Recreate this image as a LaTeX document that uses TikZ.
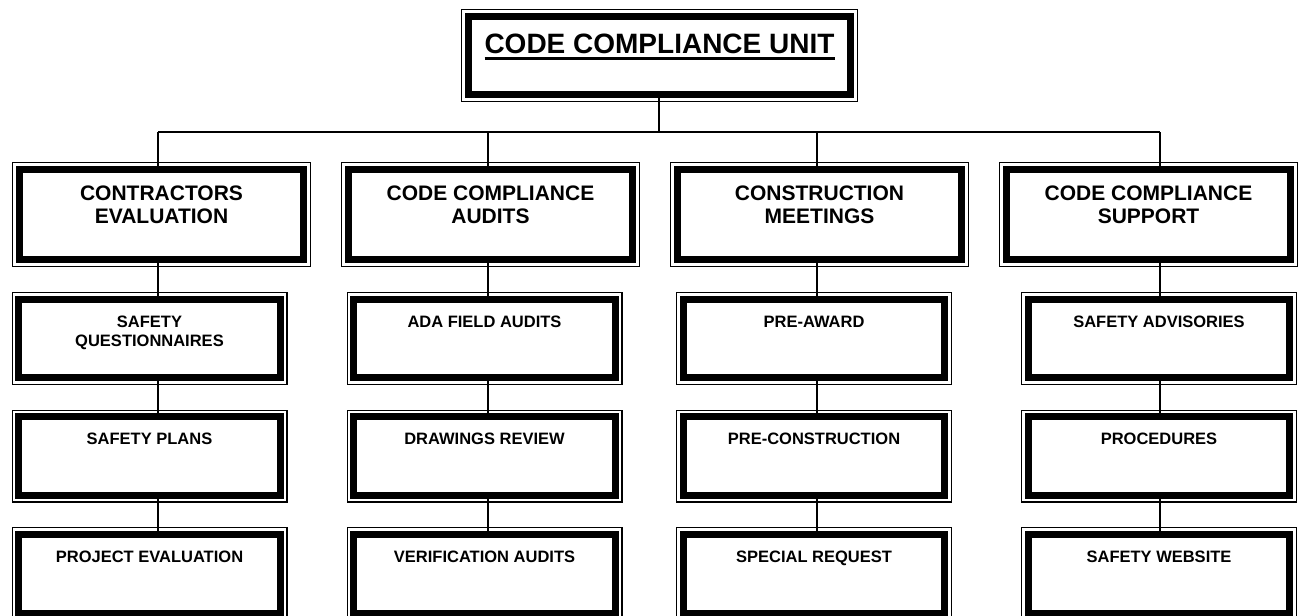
\documentclass[tikz,border=0pt]{standalone}
\usepackage{fontspec}
\setmainfont{Liberation Sans}
\usetikzlibrary{positioning}

\newlength\ulwd
\newcommand\ulinetext[1]{\settowidth\ulwd{#1}\rlap{#1}\rule[-6.6pt]{\ulwd}{3pt}}

\begin{document}
\begin{tikzpicture}[
    x=1pt,
    y=-1pt,
    framebox/.style={
        rectangle,
        draw,
        fill=white,
        line width=7pt,
        inner sep=0pt,
        outer sep=0pt,
        align=center,
        preaction={draw=black, line width=14.4pt},
        preaction={draw=white, line width=12pt}
    },
    unitbox/.style={
        framebox,
        minimum width=382.6pt,
        minimum height=78.6pt,
        text height=37.1pt,
        text depth=41.5pt,
        font=\fontsize{28}{30}\selectfont\bfseries
    },
    mainbox/.style={
        framebox,
        minimum width=284.6pt,
        minimum height=90.6pt,
        text height=53.8pt,
        text depth=36.8pt,
        font=\fontsize{21}{23}\selectfont\bfseries
    },
    subbox/.style={
        framebox,
        minimum width=261.6pt,
        minimum height=78.6pt,
        text height=27.8pt,
        text depth=50.8pt,
        font=\fontsize{16.5}{19.5}\selectfont\bfseries
    },
    subtwo/.style={
        subbox,
        text height=47.3pt,
        text depth=31.3pt
    },
    link/.style={
        draw,
        line width=1.2pt
    }
]
    \useasboundingbox (0,0) rectangle (1299,616);

    % Top
    \node [unitbox] (unit) at (659.5,55.5) {\ulinetext{CODE COMPLIANCE UNIT}};

    % Units
    \node [mainbox] (ce) at (161.5,214.5) {CONTRACTORS\\EVALUATION};
    \node [mainbox, right=44.4pt of ce] (cca) {CODE COMPLIANCE\\AUDITS};
    \node [mainbox, right=44.4pt of cca] (cm) {CONSTRUCTION\\MEETINGS};
    \node [mainbox, right=44.4pt of cm] (ccs) {CODE COMPLIANCE\\SUPPORT};

    % Tasks
    \node [subtwo] (sq) at (149.5,338.5) {SAFETY\\QUESTIONNAIRES};
    \node [subbox, below=39pt of sq] (sp) {SAFETY PLANS};
    \node [subbox, below=39pt of sp] (pe) {PROJECT EVALUATION};

    \node [subbox] (ada) at (484.5,338.5) {ADA FIELD AUDITS};
    \node [subbox, below=39pt of ada] (dr) {DRAWINGS REVIEW};
    \node [subbox, below=39pt of dr] (va) {VERIFICATION AUDITS};

    \node [subbox] (pa) at (814,338.5) {PRE-AWARD};
    \node [subbox, below=39pt of pa] (pc) {PRE-CONSTRUCTION};
    \node [subbox, below=39pt of pc] (sr) {SPECIAL REQUEST};

    \node [subbox] (sa) at (1159,338.5) {SAFETY ADVISORIES};
    \node [subbox, below=39pt of sa] (proc) {PROCEDURES};
    \node [subbox, below=39pt of proc] (sw) {SAFETY WEBSITE};

    % Bus
    \coordinate (bus) at (659,132);
    \coordinate (s1) at (158,132);
    \coordinate (s2) at (488,132);
    \coordinate (s3) at (817,132);
    \coordinate (s4) at (1160,132);

    % Edges
    \path [link] (unit.south -| bus) -- (bus);
    \path [link] (s1) -- (s4);
    \foreach \s/\a/\b/\c/\d in {s1/ce/sq/sp/pe, s2/cca/ada/dr/va, s3/cm/pa/pc/sr, s4/ccs/sa/proc/sw} {
        \path [link] (\s) -- (\a.north -| \s);
        \path [link] (\a.south -| \s) -- (\b.north -| \s);
        \path [link] (\b.south -| \s) -- (\c.north -| \s);
        \path [link] (\c.south -| \s) -- (\d.north -| \s);
    }

\end{tikzpicture}
\end{document}
